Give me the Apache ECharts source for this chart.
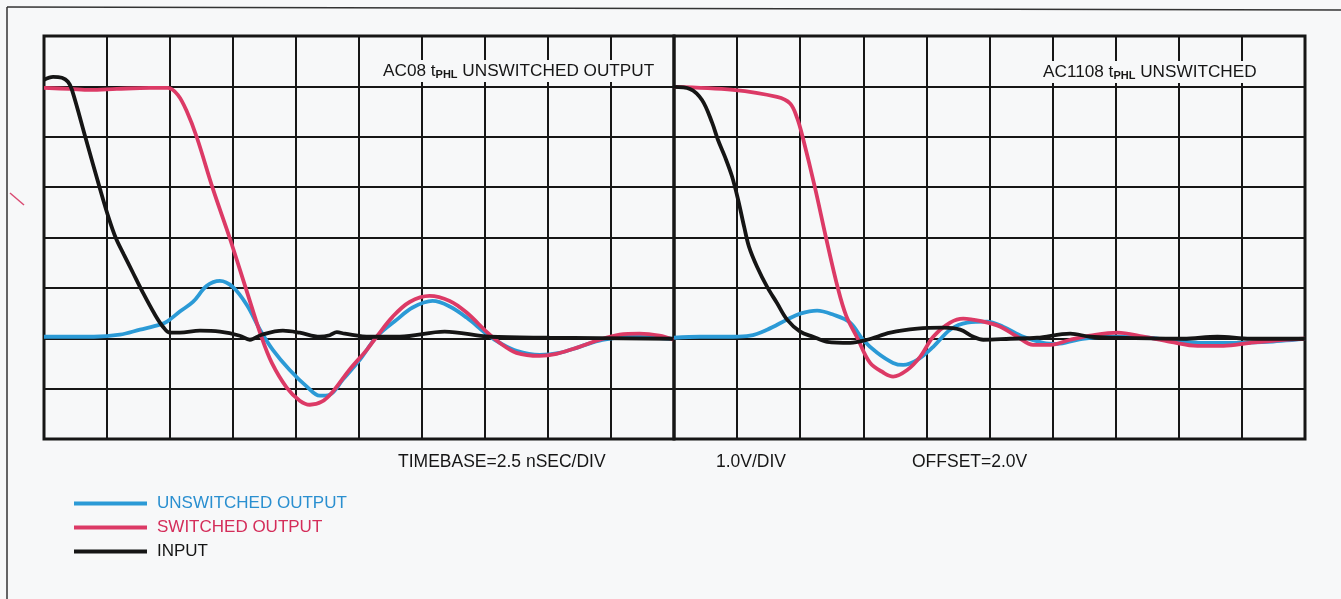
<!DOCTYPE html>
<html>
<head>
<meta charset="utf-8">
<title>AC08 / AC1108 tPHL</title>
<script src="https://cdn.jsdelivr.net/npm/echarts@6/dist/echarts.min.js"></script>
<style>
  html, body { margin: 0; padding: 0; background: #f7f8f9; }
  #chart { width: 1341px; height: 599px; }
</style>
</head>
<body>
<div id="chart"></div>
<script>
// Time in ns (2.5 ns/div), amplitude in volts (1.0 V/div, offset 2.0 V)

// ---- AC08 (left screen) ----
const ac08UnswT = [0, 1.98, 3.01, 3.81, 4.60, 4.88, 5.39, 5.91, 6.46, 6.98, 7.49, 8.05, 8.57, 9.08, 9.75, 10.43, 10.94, 11.34, 11.86, 12.53, 13.20, 14.00, 14.63, 15.42, 16.10, 16.77, 17.60, 18.08, 18.75, 19.67, 20.46, 21.25, 22.16, 23.35, 24.90];
const ac08UnswV = [0.03, 0.03, 0.07, 0.17, 0.27, 0.33, 0.53, 0.72, 1.04, 1.14, 1.02, 0.66, 0.17, -0.23, -0.63, -0.96, -1.14, -1.12, -0.82, -0.43, 0.03, 0.37, 0.61, 0.74, 0.63, 0.41, 0.07, -0.09, -0.25, -0.33, -0.29, -0.17, -0.03, 0.03, -0.01];

const ac08SwT = [0, 1.03, 1.82, 2.89, 4.20, 4.92, 5.31, 5.67, 6.07, 6.70, 7.37, 8.01, 8.64, 9.04, 9.63, 10.15, 10.55, 11.02, 11.46, 12.13, 12.81, 13.20, 13.84, 14.51, 15.30, 16.10, 16.77, 17.60, 18.08, 18.75, 19.67, 20.34, 21.13, 22.05, 22.84, 23.63, 24.42, 24.98];
const ac08SwV = [4.97, 4.95, 4.93, 4.95, 4.97, 4.97, 4.83, 4.50, 3.98, 2.97, 1.99, 0.99, 0.01, -0.49, -0.98, -1.24, -1.32, -1.26, -1.06, -0.62, -0.23, 0.03, 0.43, 0.72, 0.84, 0.74, 0.51, 0.11, -0.09, -0.29, -0.35, -0.31, -0.19, -0.03, 0.07, 0.09, 0.05, -0.03];

const ac08InT = [0, 0.36, 0.71, 0.95, 1.11, 1.67, 2.22, 2.58, 2.85, 3.17, 3.53, 3.93, 4.40, 4.72, 5.00, 5.39, 6.19, 6.98, 7.77, 8.17, 8.64, 9.48, 10.15, 10.94, 11.34, 11.62, 11.94, 12.93, 14.12, 15.90, 17.68, 20.06, 24.98];
const ac08InV = [5.13, 5.19, 5.17, 5.09, 4.93, 3.94, 2.97, 2.37, 1.99, 1.66, 1.30, 0.90, 0.47, 0.23, 0.11, 0.11, 0.15, 0.13, 0.05, -0.03, 0.07, 0.15, 0.11, 0.03, 0.06, 0.12, 0.09, 0.03, 0.03, 0.13, 0.03, 0.01, -0.01];

// ---- AC1108 (right screen) ----
const ac1108UnswT = [0, 1.03, 2.34, 3.01, 3.69, 4.48, 5.00, 5.67, 6.30, 6.98, 7.49, 8.05, 8.68, 9.08, 9.64, 10.27, 10.94, 11.62, 12.41, 13.04, 13.84, 14.63, 15.19, 15.98, 17.01, 18.20, 19.55, 20.86, 22.17, 23.51, 25.0];
const ac1108UnswV = [0.01, 0.03, 0.03, 0.05, 0.17, 0.37, 0.49, 0.55, 0.47, 0.31, -0.03, -0.29, -0.49, -0.53, -0.43, -0.17, 0.17, 0.31, 0.33, 0.23, 0.03, -0.09, -0.11, -0.03, 0.03, 0.03, -0.03, -0.09, -0.09, -0.07, -0.01];

const ac1108SwT = [0, 2.34, 4.08, 4.60, 4.88, 5.11, 5.59, 6.03, 6.50, 6.82, 7.26, 7.77, 8.29, 8.68, 9.24, 9.75, 10.27, 10.94, 11.46, 12.25, 12.93, 13.60, 14.23, 14.91, 15.70, 16.49, 17.57, 18.60, 19.67, 20.74, 21.77, 22.84, 24.15, 25.0];
const ac1108SwV = [4.99, 4.93, 4.79, 4.66, 4.37, 3.97, 2.98, 1.98, 0.98, 0.45, 0.01, -0.49, -0.68, -0.76, -0.63, -0.37, 0.03, 0.31, 0.39, 0.33, 0.23, 0.03, -0.13, -0.13, -0.03, 0.05, 0.11, 0.03, -0.07, -0.15, -0.15, -0.09, -0.03, -0.01];

const ac1108InT = [0, 0.63, 1.11, 1.51, 1.74, 2.02, 2.30, 2.54, 2.78, 2.97, 3.29, 3.69, 4.08, 4.48, 5.00, 5.51, 6.07, 6.98, 7.65, 8.57, 9.64, 10.67, 11.34, 11.86, 12.25, 13.32, 14.39, 15.70, 16.49, 17.57, 20.18, 21.53, 22.84, 25.0];
const ac1108InV = [4.99, 4.95, 4.73, 4.28, 3.94, 3.60, 3.21, 2.75, 2.21, 1.82, 1.42, 1.02, 0.70, 0.37, 0.13, 0.03, -0.07, -0.09, -0.03, 0.11, 0.19, 0.21, 0.17, 0.03, -0.03, -0.01, 0.01, 0.09, 0.03, 0.01, -0.01, 0.03, -0.01, -0.01];

// Legend entries and screen annotations
const traceNames = ['UNSWITCHED OUTPUT', 'SWITCHED OUTPUT', 'INPUT'];
const traceColors = ['#2b9ad6', '#dc3a66', '#151515'];
const labelColors = ['#2a8fd0', '#d42d5a', '#151515'];
const screenTitles = ['AC08 t{s|PHL} UNSWITCHED OUTPUT', 'AC1108 t{s|PHL} UNSWITCHED'];
const footerLabels = ['TIMEBASE=2.5 nSEC/DIV', '1.0V/DIV', 'OFFSET=2.0V'];

const BG = '#f7f8f9';
const INK = '#161616';
const FONT = "'Liberation Sans', Arial, Helvetica, sans-serif";

function zip(t, v) { return t.map((x, i) => [x, v[i]]); }

function screenAxes(idx) {
  return {
    x: {
      gridIndex: idx, type: 'value', min: 0, max: 25, interval: 2.5,
      axisLine: { show: false }, axisTick: { show: false }, axisLabel: { show: false },
      splitLine: { show: true, lineStyle: { color: INK, width: 2 } }
    },
    y: {
      gridIndex: idx, type: 'value', min: -2, max: 6, interval: 1,
      axisLine: { show: false }, axisTick: { show: false }, axisLabel: { show: false },
      splitLine: { show: true, lineStyle: { color: INK, width: 2 } }
    }
  };
}

function trace(idx, k, t, v) {
  return {
    name: traceNames[k], type: 'line', xAxisIndex: idx, yAxisIndex: idx,
    data: zip(t, v), showSymbol: false, smooth: 0.35, z: 3 + k,
    lineStyle: { color: traceColors[k], width: 3.8 },
    itemStyle: { color: traceColors[k] },
    animation: false
  };
}

function footer(x, text) {
  return { type: 'text', left: x, top: 453, z: 100, style: { text: text, fontSize: 17.5, fontFamily: FONT, fill: INK } };
}

function screenTitle(x, y, text) {
  return {
    type: 'text', left: x, top: y, z: 100,
    style: {
      text: text, fontSize: 17.2, fontFamily: FONT, fill: INK,
      backgroundColor: BG, padding: [3, 3, 2, 3],
      rich: { s: { fontSize: 11, fontWeight: 'bold', fontFamily: FONT, verticalAlign: 'bottom', fill: INK } }
    }
  };
}

const a0 = screenAxes(0), a1 = screenAxes(1);

const option = {
  backgroundColor: BG,
  animation: false,
  grid: [
    { left: 44, top: 36, width: 630, height: 403, show: true, borderColor: INK, borderWidth: 3, backgroundColor: 'transparent' },
    { left: 674, top: 36, width: 631, height: 403, show: true, borderColor: INK, borderWidth: 3, backgroundColor: 'transparent' }
  ],
  xAxis: [a0.x, a1.x],
  yAxis: [a0.y, a1.y],
  legend: {
    orient: 'vertical', left: 74, top: 495, padding: 0,
    itemWidth: 73, itemHeight: 4, itemGap: 7, icon: 'rect',
    selectedMode: false,
    textStyle: { fontSize: 17, fontFamily: FONT, lineHeight: 17, padding: [0, 0, 0, 5] },
    data: traceNames.map((n, k) => ({ name: n, textStyle: { color: labelColors[k] } }))
  },
  series: [
    trace(0, 0, ac08UnswT, ac08UnswV),
    trace(0, 1, ac08SwT, ac08SwV),
    trace(0, 2, ac08InT, ac08InV),
    trace(1, 0, ac1108UnswT, ac1108UnswV),
    trace(1, 1, ac1108SwT, ac1108SwV),
    trace(1, 2, ac1108InT, ac1108InV)
  ],
  graphic: [
    // page frame
    { type: 'line', z: 50, shape: { x1: 7, y1: 7, x2: 1341, y2: 10 }, style: { stroke: '#333', lineWidth: 1.5 } },
    { type: 'line', z: 50, shape: { x1: 7, y1: 7, x2: 7, y2: 599 }, style: { stroke: '#333', lineWidth: 1.5 } },
    // pen mark in the margin
    { type: 'line', z: 50, shape: { x1: 10, y1: 193, x2: 24, y2: 205 }, style: { stroke: '#d94b72', lineWidth: 1.5 } },
    // screen titles (knock out the graticule behind them)
    screenTitle(380, 60, screenTitles[0]),
    screenTitle(1040, 61, screenTitles[1]),
    // scale annotations under the screens
    footer(398, footerLabels[0]),
    footer(716, footerLabels[1]),
    footer(912, footerLabels[2])
  ]
};

const chart = echarts.init(document.getElementById('chart'), null, { renderer: 'canvas' });
chart.setOption(option);
</script>
</body>
</html>
